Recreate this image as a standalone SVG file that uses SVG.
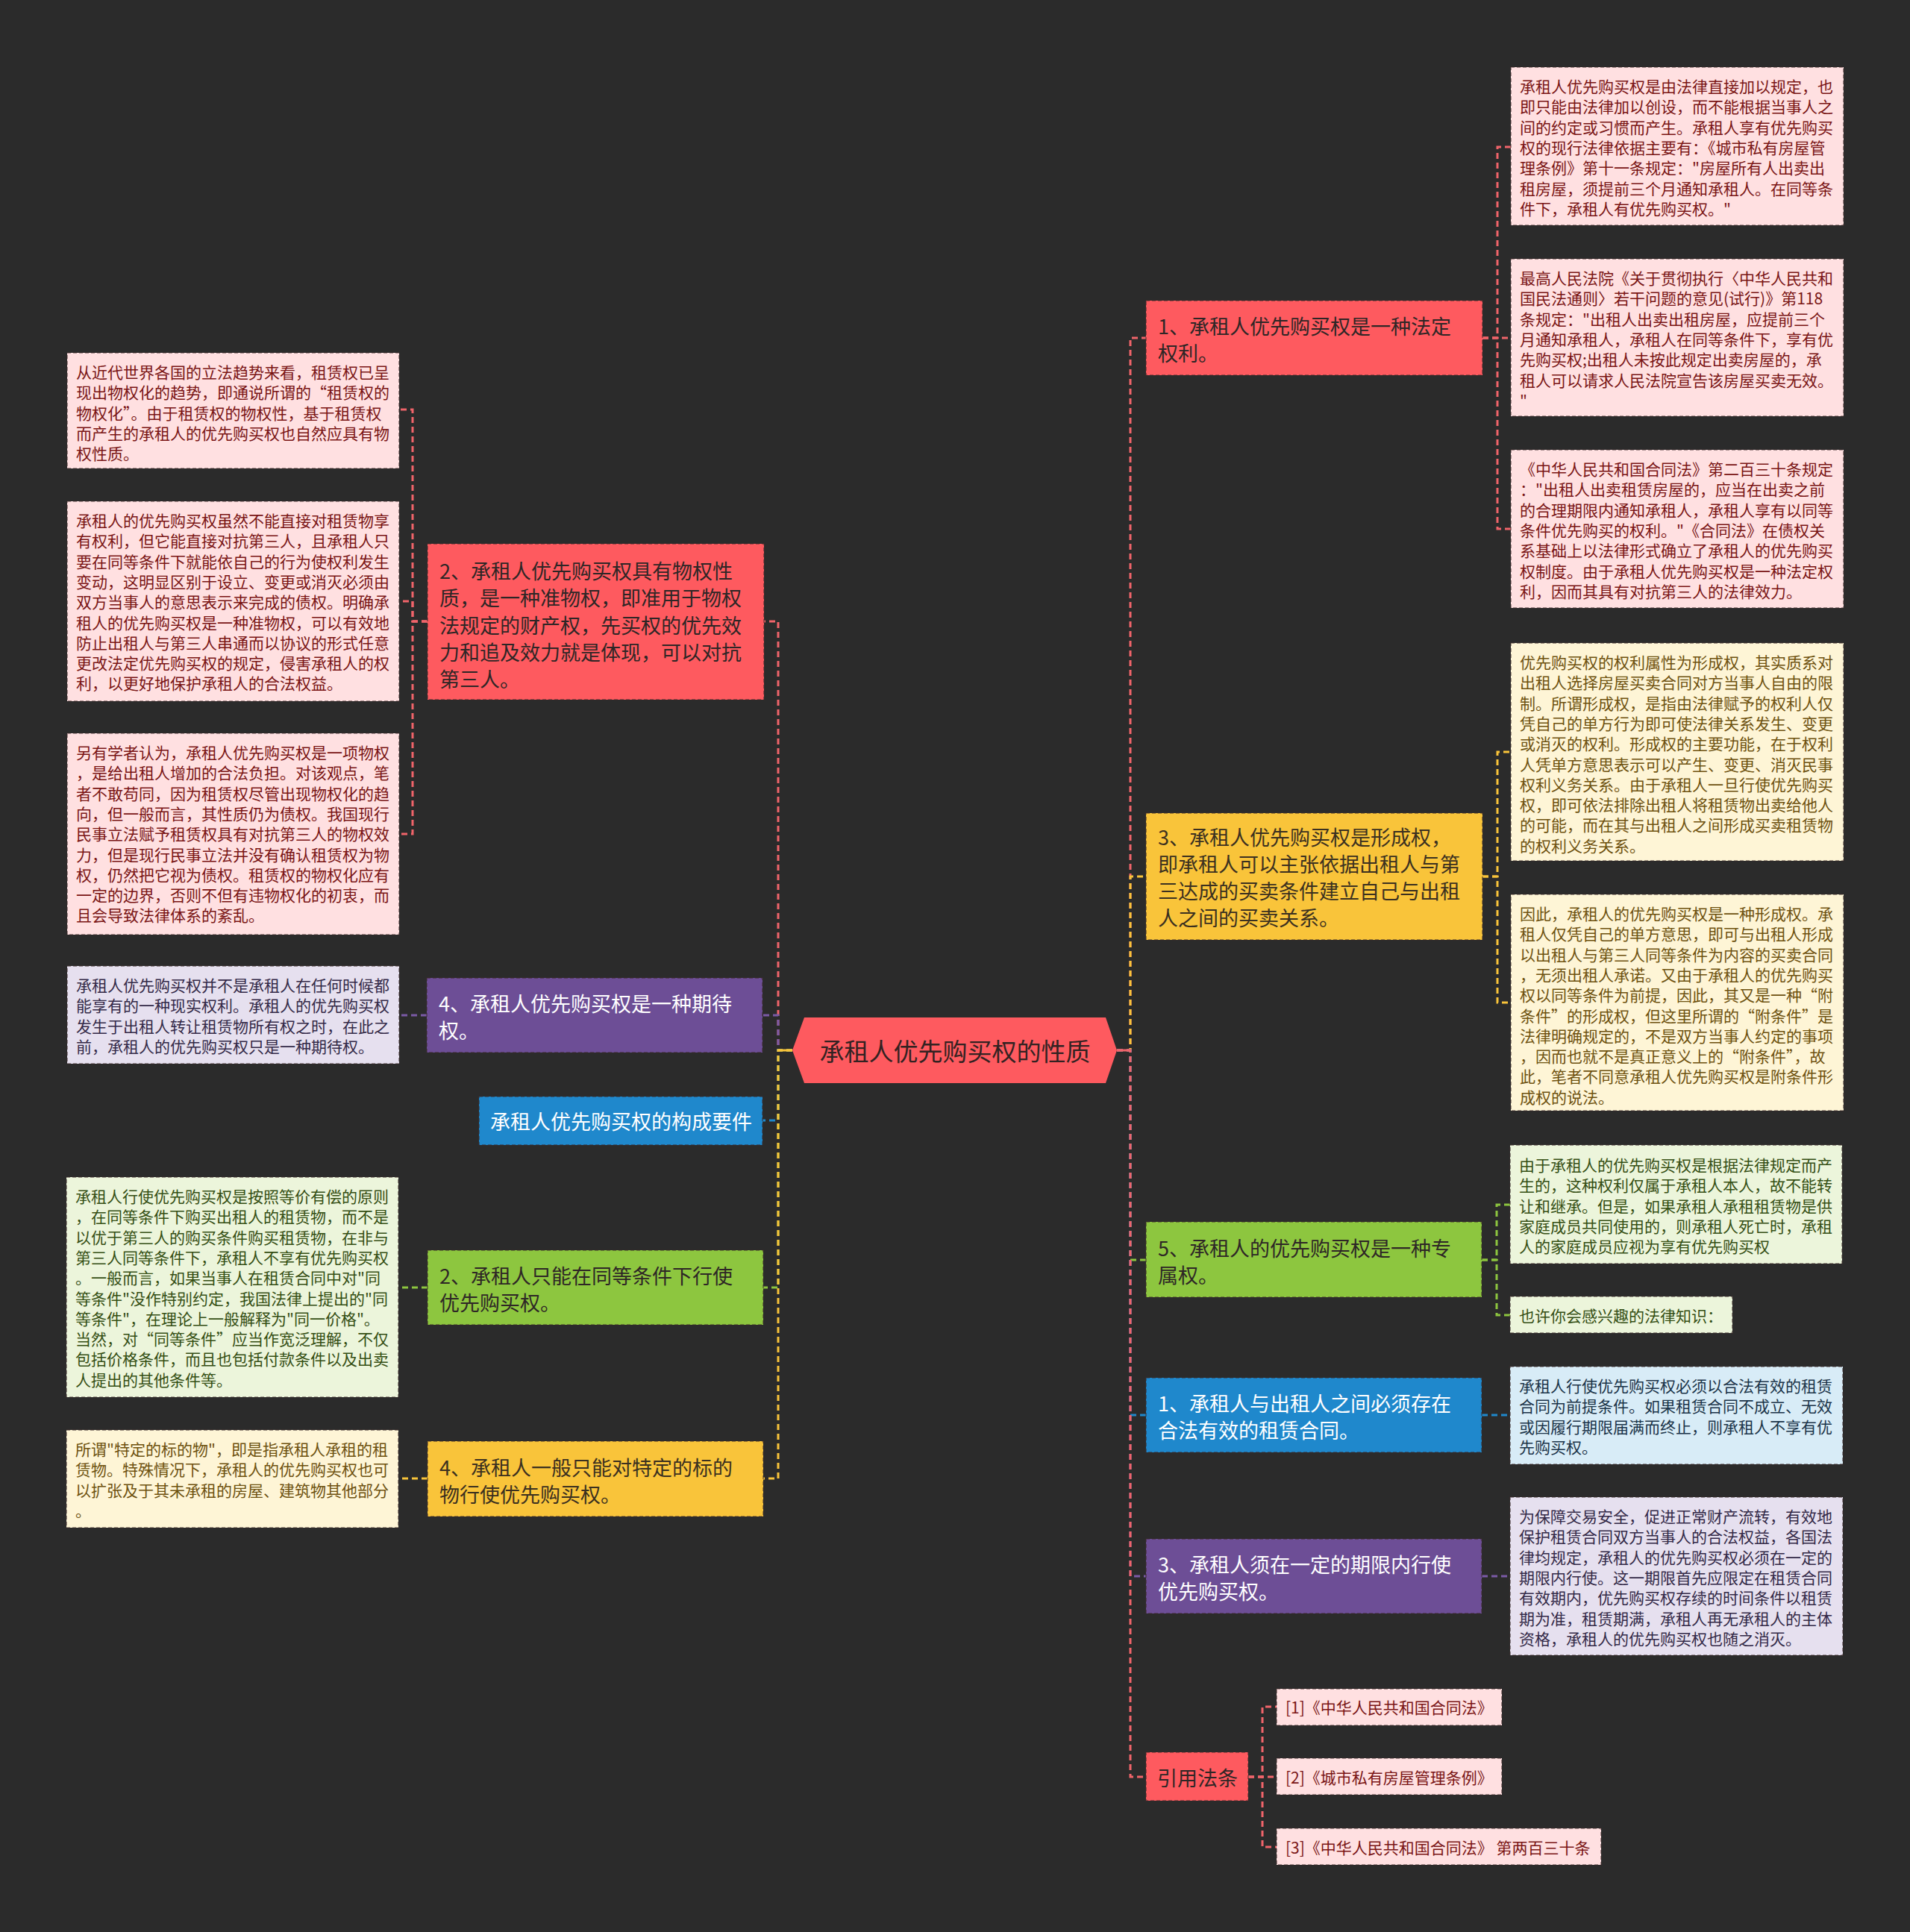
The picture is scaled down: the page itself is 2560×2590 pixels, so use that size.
<svg xmlns="http://www.w3.org/2000/svg" width="2560" height="2590" viewBox="0 0 2560 2590">
<style>
text{font-family:"Noto Sans CJK SC","Noto Sans CJK JP",sans-serif;dominant-baseline:central}
.m{font-size:27px}
.s{font-size:21px}
.bd{stroke:#3a2a2a;stroke-opacity:.6;stroke-width:1.6;stroke-dasharray:5 3}
.c{fill:none;stroke-width:3;stroke-dasharray:8 5}
.cr{stroke:#f0646a}.cy{stroke:#f9c43a}.cg{stroke:#8dc63f}.cb{stroke:#1f88cc}.cp{stroke:#7a5aa6}
.fr{fill:#fe5a5f}.fy{fill:#f9c43a}.fg{fill:#8dc63f}.fb{fill:#1f88cc}.fp{fill:#6d4e96}
.lp{fill:#ffe0e1}.ly{fill:#fef5d6}.lg{fill:#ecf5db}.lb{fill:#d8ecf7}.lv{fill:#e6e0ef}
.td{fill:#2e2626}.tw{fill:#ffffff}.tyd{fill:#3b3020}
.tpr{fill:#7a1515}.tyr{fill:#6e5210}.tgr{fill:#354f14}.tbr{fill:#1b3449}.tvr{fill:#342a48}
</style>
<rect width="2560" height="2590" fill="#2b2b2b"/>

<g id="connectors">
  <path class="c cr" d="M1062,1408 H1043 V833 H1024"/>
  <path class="c cp" d="M1062,1408 H1043 V1361 H1022"/>
  <path class="c cb" d="M1062,1408 H1043 V1502 H1022"/>
  <path class="c cg" d="M1062,1408 H1043 V1726 H1023"/>
  <path class="c cy" d="M1062,1408 H1043 V1982 H1023"/>
  <path d="M1043,1408 H1062" stroke="#f9c43a" stroke-width="3"/>
  <path class="c cr" d="M1497,1408 H1515 V453 H1536"/>
  <path class="c cy" d="M1497,1408 H1515 V1175 H1536"/>
  <path class="c cg" d="M1497,1408 H1515 V1689 H1536"/>
  <path class="c cb" d="M1497,1408 H1515 V1897 H1536"/>
  <path class="c cp" d="M1497,1408 H1515 V2113 H1536"/>
  <path class="c cr" d="M1497,1408 H1515 V2382 H1536"/>
  <path d="M1497,1408 H1515" stroke="#f0646a" stroke-width="3"/>
  <path class="c cr" d="M573,833 H553 V549 H535"/>
  <path class="c cr" d="M573,833 H553 V806 H535"/>
  <path class="c cr" d="M573,833 H553 V1118 H535"/>
  <path class="c cp" d="M572,1361 H535"/>
  <path class="c cg" d="M573,1726 H534"/>
  <path class="c cy" d="M573,1982 H534"/>
  <path class="c cr" d="M1987,453 H2007 V197 H2025"/>
  <path class="c cr" d="M1987,453 H2007 V453 H2025"/>
  <path class="c cr" d="M1987,453 H2007 V709 H2025"/>
  <path class="c cy" d="M1987,1175 H2007 V1008 H2025"/>
  <path class="c cy" d="M1987,1175 H2007 V1344 H2025"/>
  <path class="c cg" d="M1986,1689 H2006 V1615 H2024"/>
  <path class="c cg" d="M1986,1689 H2006 V1763 H2024"/>
  <path class="c cb" d="M1986,1897 H2024"/>
  <path class="c cp" d="M1986,2113 H2024"/>
  <path class="c cr" d="M1673,2382 H1692 V2288 H1711"/>
  <path class="c cr" d="M1673,2382 H1692 V2382 H1711"/>
  <path class="c cr" d="M1673,2382 H1692 V2476 H1711"/>
</g>

<g id="center">
  <polygon points="1062,1408 1078,1364 1482,1364 1497,1408 1482,1452 1078,1452" fill="#fe5a5f"/>
  <text x="1280" y="1408" font-size="33" text-anchor="middle" fill="#332222">承租人优先购买权的性质</text>
</g>

<g id="L2">
  <rect x="573" y="729" width="451" height="209" class="fr bd"/>
  <text class="m td"><tspan x="589" y="764">2、承租人优先购买权具有物权性</tspan><tspan x="589" y="800">质，是一种准物权，即准用于物权</tspan><tspan x="589" y="837">法规定的财产权，先买权的优先效</tspan><tspan x="589" y="873">力和追及效力就是体现，可以对抗</tspan><tspan x="589" y="909">第三人。</tspan></text>
</g>
<g id="L2a">
  <rect x="90" y="473" width="445" height="155" class="lp bd"/>
  <text class="s tpr"><tspan x="102" y="498">从近代世界各国的立法趋势来看，租赁权已呈</tspan><tspan x="102" y="525.3">现出物权化的趋势，即通说所谓的“租赁权的</tspan><tspan x="102" y="552.6">物权化”。由于租赁权的物权性，基于租赁权</tspan><tspan x="102" y="579.9">而产生的承租人的优先购买权也自然应具有物</tspan><tspan x="102" y="607.2">权性质。</tspan></text>
</g>
<g id="L2b">
  <rect x="90" y="672" width="445" height="268" class="lp bd"/>
  <text class="s tpr"><tspan x="102" y="697">承租人的优先购买权虽然不能直接对租赁物享</tspan><tspan x="102" y="724.3">有权利，但它能直接对抗第三人，且承租人只</tspan><tspan x="102" y="751.6">要在同等条件下就能依自己的行为使权利发生</tspan><tspan x="102" y="778.9">变动，这明显区别于设立、变更或消灭必须由</tspan><tspan x="102" y="806.2">双方当事人的意思表示来完成的债权。明确承</tspan><tspan x="102" y="833.5">租人的优先购买权是一种准物权，可以有效地</tspan><tspan x="102" y="860.8">防止出租人与第三人串通而以协议的形式任意</tspan><tspan x="102" y="888.1">更改法定优先购买权的规定，侵害承租人的权</tspan><tspan x="102" y="915.4">利，以更好地保护承租人的合法权益。</tspan></text>
</g>
<g id="L2c">
  <rect x="90" y="983" width="445" height="270" class="lp bd"/>
  <text class="s tpr"><tspan x="102" y="1008">另有学者认为，承租人优先购买权是一项物权</tspan><tspan x="102" y="1035.3">，是给出租人增加的合法负担。对该观点，笔</tspan><tspan x="102" y="1062.6">者不敢苟同，因为租赁权尽管出现物权化的趋</tspan><tspan x="102" y="1089.9">向，但一般而言，其性质仍为债权。我国现行</tspan><tspan x="102" y="1117.2">民事立法赋予租赁权具有对抗第三人的物权效</tspan><tspan x="102" y="1144.5">力，但是现行民事立法并没有确认租赁权为物</tspan><tspan x="102" y="1171.8">权，仍然把它视为债权。租赁权的物权化应有</tspan><tspan x="102" y="1199.1">一定的边界，否则不但有违物权化的初衷，而</tspan><tspan x="102" y="1226.4">且会导致法律体系的紊乱。</tspan></text>
</g>

<g id="L4">
  <rect x="572" y="1311" width="450" height="100" class="fp bd"/>
  <text class="m tw"><tspan x="588" y="1344">4、承租人优先购买权是一种期待</tspan><tspan x="588" y="1380">权。</tspan></text>
</g>
<g id="L4a">
  <rect x="90" y="1295" width="445" height="131" class="lv bd"/>
  <text class="s tvr"><tspan x="102" y="1320">承租人优先购买权并不是承租人在任何时候都</tspan><tspan x="102" y="1347.3">能享有的一种现实权利。承租人的优先购买权</tspan><tspan x="102" y="1374.6">发生于出租人转让租赁物所有权之时，在此之</tspan><tspan x="102" y="1401.9">前，承租人的优先购买权只是一种期待权。</tspan></text>
</g>

<g id="Lblue">
  <rect x="642" y="1470" width="380" height="65" class="fb bd"/>
  <text x="657" y="1502" class="m tw">承租人优先购买权的构成要件</text>
</g>

<g id="L2p">
  <rect x="573" y="1676" width="450" height="100" class="fg bd"/>
  <text class="m td"><tspan x="589" y="1709">2、承租人只能在同等条件下行使</tspan><tspan x="589" y="1745">优先购买权。</tspan></text>
</g>
<g id="L2pa">
  <rect x="89" y="1578" width="445" height="295" class="lg bd"/>
  <text class="s tgr"><tspan x="101" y="1603">承租人行使优先购买权是按照等价有偿的原则</tspan><tspan x="101" y="1630.3">，在同等条件下购买出租人的租赁物，而不是</tspan><tspan x="101" y="1657.6">以优于第三人的购买条件购买租赁物，在非与</tspan><tspan x="101" y="1684.9">第三人同等条件下，承租人不享有优先购买权</tspan><tspan x="101" y="1712.2">。一般而言，如果当事人在租赁合同中对"同</tspan><tspan x="101" y="1739.5">等条件"没作特别约定，我国法律上提出的"同</tspan><tspan x="101" y="1766.8">等条件"，在理论上一般解释为"同一价格"。</tspan><tspan x="101" y="1794.1">当然，对“同等条件”应当作宽泛理解，不仅</tspan><tspan x="101" y="1821.4">包括价格条件，而且也包括付款条件以及出卖</tspan><tspan x="101" y="1848.7">人提出的其他条件等。</tspan></text>
</g>

<g id="L4p">
  <rect x="573" y="1932" width="450" height="101" class="fy bd"/>
  <text class="m tyd"><tspan x="589" y="1966">4、承租人一般只能对特定的标的</tspan><tspan x="589" y="2002">物行使优先购买权。</tspan></text>
</g>
<g id="L4pa">
  <rect x="89" y="1917" width="445" height="131" class="ly bd"/>
  <text class="s tyr"><tspan x="101" y="1942">所谓"特定的标的物"，即是指承租人承租的租</tspan><tspan x="101" y="1969.3">赁物。特殊情况下，承租人的优先购买权也可</tspan><tspan x="101" y="1996.6">以扩张及于其未承租的房屋、建筑物其他部分</tspan><tspan x="101" y="2023.9">。</tspan></text>
</g>

<g id="R1">
  <rect x="1536" y="403" width="451" height="100" class="fr bd"/>
  <text class="m td"><tspan x="1552" y="436">1、承租人优先购买权是一种法定</tspan><tspan x="1552" y="472">权利。</tspan></text>
</g>
<g id="R1a">
  <rect x="2025" y="90" width="446" height="212" class="lp bd"/>
  <text class="s tpr"><tspan x="2037" y="115">承租人优先购买权是由法律直接加以规定，也</tspan><tspan x="2037" y="142.3">即只能由法律加以创设，而不能根据当事人之</tspan><tspan x="2037" y="169.6">间的约定或习惯而产生。承租人享有优先购买</tspan><tspan x="2037" y="196.9">权的现行法律依据主要有：《城市私有房屋管</tspan><tspan x="2037" y="224.2">理条例》第十一条规定："房屋所有人出卖出</tspan><tspan x="2037" y="251.5">租房屋，须提前三个月通知承租人。在同等条</tspan><tspan x="2037" y="278.8">件下，承租人有优先购买权。"</tspan></text>
</g>
<g id="R1b">
  <rect x="2025" y="347" width="446" height="211" class="lp bd"/>
  <text class="s tpr"><tspan x="2037" y="372">最高人民法院《关于贯彻执行〈中华人民共和</tspan><tspan x="2037" y="399.3">国民法通则〉若干问题的意见(试行)》第118</tspan><tspan x="2037" y="426.6">条规定："出租人出卖出租房屋，应提前三个</tspan><tspan x="2037" y="453.9">月通知承租人，承租人在同等条件下，享有优</tspan><tspan x="2037" y="481.2">先购买权;出租人未按此规定出卖房屋的，承</tspan><tspan x="2037" y="508.5">租人可以请求人民法院宣告该房屋买卖无效。</tspan><tspan x="2037" y="535.8">"</tspan></text>
</g>
<g id="R1c">
  <rect x="2025" y="603" width="446" height="212" class="lp bd"/>
  <text class="s tpr"><tspan x="2037" y="628">《中华人民共和国合同法》第二百三十条规定</tspan><tspan x="2037" y="655.3">："出租人出卖租赁房屋的，应当在出卖之前</tspan><tspan x="2037" y="682.6">的合理期限内通知承租人，承租人享有以同等</tspan><tspan x="2037" y="709.9">条件优先购买的权利。"《合同法》在债权关</tspan><tspan x="2037" y="737.2">系基础上以法律形式确立了承租人的优先购买</tspan><tspan x="2037" y="764.5">权制度。由于承租人优先购买权是一种法定权</tspan><tspan x="2037" y="791.8">利，因而其具有对抗第三人的法律效力。</tspan></text>
</g>

<g id="R3">
  <rect x="1536" y="1090" width="451" height="170" class="fy bd"/>
  <text class="m tyd"><tspan x="1552" y="1121">3、承租人优先购买权是形成权，</tspan><tspan x="1552" y="1157">即承租人可以主张依据出租人与第</tspan><tspan x="1552" y="1193">三达成的买卖条件建立自己与出租</tspan><tspan x="1552" y="1229">人之间的买卖关系。</tspan></text>
</g>
<g id="R3a">
  <rect x="2025" y="862" width="446" height="292" class="ly bd"/>
  <text class="s tyr"><tspan x="2037" y="887">优先购买权的权利属性为形成权，其实质系对</tspan><tspan x="2037" y="914.3">出租人选择房屋买卖合同对方当事人自由的限</tspan><tspan x="2037" y="941.6">制。所谓形成权，是指由法律赋予的权利人仅</tspan><tspan x="2037" y="968.9">凭自己的单方行为即可使法律关系发生、变更</tspan><tspan x="2037" y="996.2">或消灭的权利。形成权的主要功能，在于权利</tspan><tspan x="2037" y="1023.5">人凭单方意思表示可以产生、变更、消灭民事</tspan><tspan x="2037" y="1050.8">权利义务关系。由于承租人一旦行使优先购买</tspan><tspan x="2037" y="1078.1">权，即可依法排除出租人将租赁物出卖给他人</tspan><tspan x="2037" y="1105.4">的可能，而在其与出租人之间形成买卖租赁物</tspan><tspan x="2037" y="1132.7">的权利义务关系。</tspan></text>
</g>
<g id="R3b">
  <rect x="2025" y="1199" width="446" height="290" class="ly bd"/>
  <text class="s tyr"><tspan x="2037" y="1224">因此，承租人的优先购买权是一种形成权。承</tspan><tspan x="2037" y="1251.3">租人仅凭自己的单方意思，即可与出租人形成</tspan><tspan x="2037" y="1278.6">以出租人与第三人同等条件为内容的买卖合同</tspan><tspan x="2037" y="1305.9">，无须出租人承诺。又由于承租人的优先购买</tspan><tspan x="2037" y="1333.2">权以同等条件为前提，因此，其又是一种“附</tspan><tspan x="2037" y="1360.5">条件”的形成权，但这里所谓的“附条件”是</tspan><tspan x="2037" y="1387.8">法律明确规定的，不是双方当事人约定的事项</tspan><tspan x="2037" y="1415.1">，因而也就不是真正意义上的“附条件”，故</tspan><tspan x="2037" y="1442.4">此，笔者不同意承租人优先购买权是附条件形</tspan><tspan x="2037" y="1469.7">成权的说法。</tspan></text>
</g>

<g id="R5">
  <rect x="1536" y="1638" width="450" height="101" class="fg bd"/>
  <text class="m td"><tspan x="1552" y="1672">5、承租人的优先购买权是一种专</tspan><tspan x="1552" y="1708">属权。</tspan></text>
</g>
<g id="R5a">
  <rect x="2024" y="1535" width="445" height="159" class="lg bd"/>
  <text class="s tgr"><tspan x="2036" y="1561">由于承租人的优先购买权是根据法律规定而产</tspan><tspan x="2036" y="1588.3">生的，这种权利仅属于承租人本人，故不能转</tspan><tspan x="2036" y="1615.6">让和继承。但是，如果承租人承租租赁物是供</tspan><tspan x="2036" y="1642.9">家庭成员共同使用的，则承租人死亡时，承租</tspan><tspan x="2036" y="1670.2">人的家庭成员应视为享有优先购买权</tspan></text>
</g>
<g id="R5b">
  <rect x="2024" y="1738" width="298" height="49" class="lg bd"/>
  <text x="2036" y="1763" class="s tgr">也许你会感兴趣的法律知识：</text>
</g>

<g id="R1p">
  <rect x="1536" y="1847" width="450" height="100" class="fb bd"/>
  <text class="m tw"><tspan x="1552" y="1880">1、承租人与出租人之间必须存在</tspan><tspan x="1552" y="1916">合法有效的租赁合同。</tspan></text>
</g>
<g id="R1pa">
  <rect x="2024" y="1832" width="446" height="131" class="lb bd"/>
  <text class="s tbr"><tspan x="2036" y="1857">承租人行使优先购买权必须以合法有效的租赁</tspan><tspan x="2036" y="1884.3">合同为前提条件。如果租赁合同不成立、无效</tspan><tspan x="2036" y="1911.6">或因履行期限届满而终止，则承租人不享有优</tspan><tspan x="2036" y="1938.9">先购买权。</tspan></text>
</g>

<g id="R3p">
  <rect x="1536" y="2063" width="450" height="100" class="fp bd"/>
  <text class="m tw"><tspan x="1552" y="2096">3、承租人须在一定的期限内行使</tspan><tspan x="1552" y="2132">优先购买权。</tspan></text>
</g>
<g id="R3pa">
  <rect x="2024" y="2007" width="446" height="212" class="lv bd"/>
  <text class="s tvr"><tspan x="2036" y="2032">为保障交易安全，促进正常财产流转，有效地</tspan><tspan x="2036" y="2059.3">保护租赁合同双方当事人的合法权益，各国法</tspan><tspan x="2036" y="2086.6">律均规定，承租人的优先购买权必须在一定的</tspan><tspan x="2036" y="2113.9">期限内行使。这一期限首先应限定在租赁合同</tspan><tspan x="2036" y="2141.2">有效期内，优先购买权存续的时间条件以租赁</tspan><tspan x="2036" y="2168.5">期为准，租赁期满，承租人再无承租人的主体</tspan><tspan x="2036" y="2195.8">资格，承租人的优先购买权也随之消灭。</tspan></text>
</g>

<g id="Rref">
  <rect x="1536" y="2349" width="137" height="65" class="fr bd"/>
  <text x="1551" y="2382" class="m td">引用法条</text>
</g>
<g id="ref1">
  <rect x="1711" y="2264" width="302" height="49" class="lp bd"/>
  <text x="1723" y="2288" class="s tpr">[1]《中华人民共和国合同法》</text>
</g>
<g id="ref2">
  <rect x="1711" y="2357" width="302" height="49" class="lp bd"/>
  <text x="1723" y="2382" class="s tpr">[2]《城市私有房屋管理条例》</text>
</g>
<g id="ref3">
  <rect x="1711" y="2451" width="435" height="49" class="lp bd"/>
  <text x="1723" y="2476" class="s tpr">[3]《中华人民共和国合同法》 第两百三十条</text>
</g>
</svg>
